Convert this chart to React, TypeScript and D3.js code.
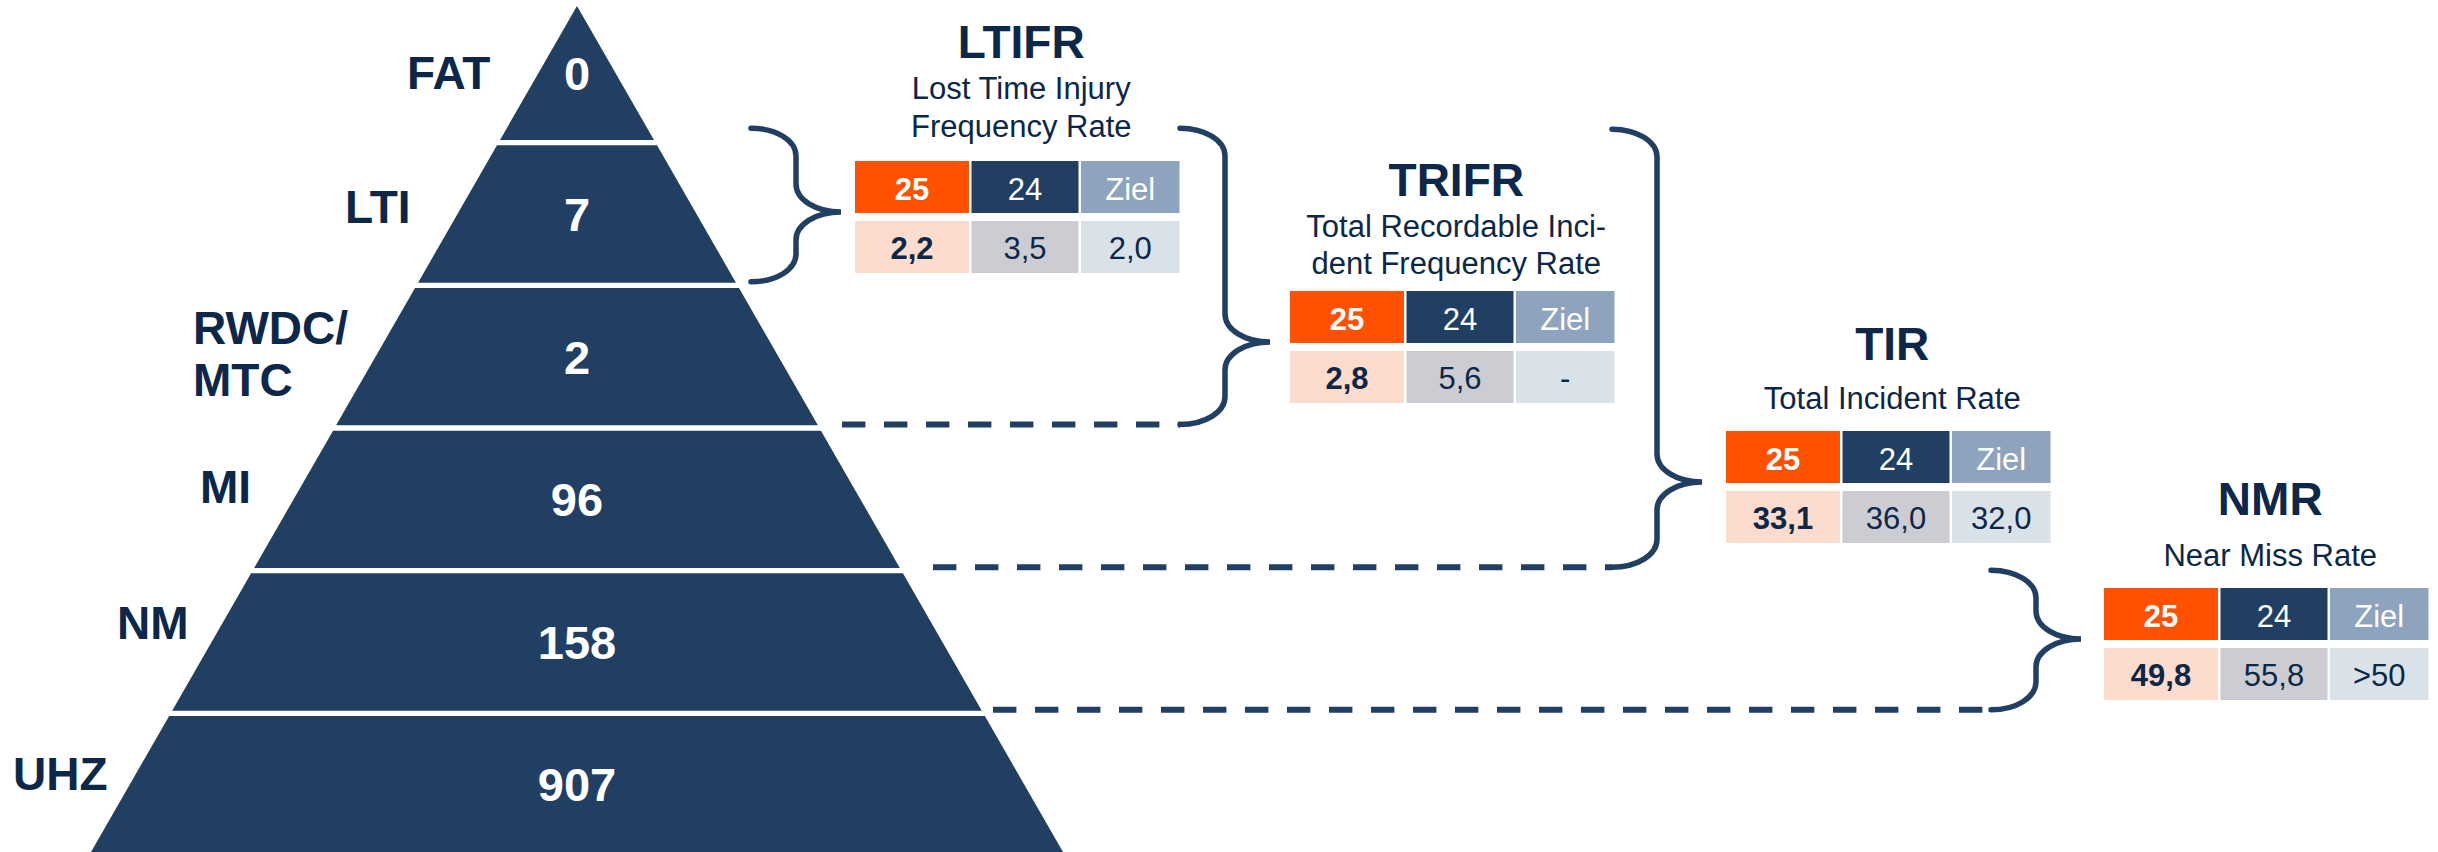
import React from "react";
import * as d3 from "d3";

// incident pyramid
const levelLabels = [["FAT"], ["LTI"], ["RWDC/", "MTC"], ["MI"], ["NM"], ["UHZ"]];
const levelCounts = [0, 7, 2, 96, 158, 907];

// rate tables
const rateCodes = ["LTIFR", "TRIFR", "TIR", "NMR"];
const rateNames = [
  ["Lost Time Injury", "Frequency Rate"],
  ["Total Recordable Inci-", "dent Frequency Rate"],
  ["Total Incident Rate"],
  ["Near Miss Rate"],
];
const columnHeaders = ["25", "24", "Ziel"];
const rates2025 = [2.2, 2.8, 33.1, 49.8];
const rates2024 = [3.5, 5.6, 36.0, 55.8];
const rateTargets = ["2,0", "-", "32,0", ">50"];
// which pyramid levels each rate covers
const rateFrom = [1, 1, 1, 4];
const rateTo = [1, 2, 3, 4];

const W = 2438;
const H = 852;
const FONT = "'Liberation Sans', Arial, Helvetica, sans-serif";
const NAVY = "#213f63";
const DARK = "#0c2747";
const headerFills = ["#ff5100", "#213f63", "#8da3be"];
const valueFills = ["#fddccd", "#cccdd2", "#d9e1e9"];

// layout
const apex = { x: 577, y: 6 };
const baseHalf = 486;
const GAP = 5.3;
const labelX = [407, 345, 193, 200, 117, 13];
const labelBase = [[89], [223], [344, 396], [503], [639], [790]];
const tableLeft = [855, 1290, 1726, 2104];
const tableTop = [161, 291, 431, 588];
const titleBase = [58, 196, 360, 515];
const subBase = [[99, 137], [237, 274], [409], [566]];
const braceX = [751, 1180, 1612, 1991];
const braceTopOffset = [14.5, 14.5, 13.5, 0.5];
const dashStart = [842, 933, 993];
const colW = [114, 107, 98.5];
const colGap = 2.5;
const rowH = 52;
const rowGap = 8;

const bandY = d3.scaleLinear().domain([0, levelLabels.length]).range([0, 856]);
const halfW = d3.scaleLinear().domain([apex.y, H]).range([0, baseHalf]);
const de = d3.formatLocale({ decimal: ",", thousands: ".", grouping: [3], currency: ["", " €"] });
const fmt = de.format(".1f");

const colX = colW.map((_, i) => d3.sum(colW.slice(0, i)) + i * colGap);
const tableW = d3.sum(colW) + colGap * (colW.length - 1);

// curly brace opening to the left, pointing right at tipY
function bracePath(x0: number, top: number, bottom: number, tipY: number) {
  const dx = 45;
  const x1 = x0 + dx;
  const x2 = x0 + 2 * dx;
  const r = 28;
  const k = 0.56;
  return [
    `M${x0},${top}`,
    `C${x0 + dx * k},${top} ${x1},${top + r * (1 - k)} ${x1},${top + r}`,
    `L${x1},${tipY - r}`,
    `C${x1},${tipY - r * (1 - k)} ${x2 - dx * k},${tipY} ${x2},${tipY}`,
    `C${x2 - dx * k},${tipY} ${x1},${tipY + r * (1 - k)} ${x1},${tipY + r}`,
    `L${x1},${bottom - r}`,
    `C${x1},${bottom - r * (1 - k)} ${x0 + dx * k},${bottom} ${x0},${bottom}`,
  ].join(" ");
}

export default function App() {
  const line = d3.line();

  const bands = levelCounts.map((c, i) => {
    const top = i === 0 ? apex.y : bandY(i) + GAP / 2;
    const bot = bandY(i + 1) - GAP / 2;
    const pts: [number, number][] = [
      [apex.x - halfW(top), top],
      [apex.x + halfW(top), top],
      [apex.x + halfW(bot), bot],
      [apex.x - halfW(bot), bot],
    ];
    return { c, i, top, bot, d: line(pts) + "Z" };
  });

  return (
    <svg
      width={W}
      height={H}
      viewBox={`0 0 ${W} ${H}`}
      style={{ position: "absolute", left: 0, top: 0, background: "#fff" }}
      fontFamily={FONT}
    >
      {/* pyramid */}
      {bands.map((b) => (
        <g key={b.i}>
          <path d={b.d} fill={NAVY} />
          <text
            x={apex.x}
            y={(Math.max(b.top, apex.y) + Math.min(b.bot, H)) / 2 + 17}
            fill="#fff"
            fontSize={47}
            fontWeight="bold"
            textAnchor="middle"
          >
            {b.c}
          </text>
          {levelLabels[b.i].map((t, j) => (
            <text
              key={j}
              x={labelX[b.i]}
              y={labelBase[b.i][j]}
              fill={DARK}
              fontSize={46}
              fontWeight="bold"
            >
              {t}
            </text>
          ))}
        </g>
      ))}

      {/* braces and dashed connectors */}
      {rateCodes.map((code, k) => {
        const top = bandY(rateFrom[k]) - braceTopOffset[k];
        const bottom = bandY(rateTo[k] + 1) - 3.5;
        const tipY = tableTop[k] + 51;
        const x0 = braceX[k];
        const startX = k > 0 ? dashStart[k - 1] : null;
        return (
          <g key={code} fill="none" stroke={NAVY}>
            <path d={bracePath(x0, top, bottom, tipY)} strokeWidth={5.5} strokeLinecap="round" />
            {startX !== null && (
              <line x1={startX} x2={x0} y1={bottom} y2={bottom} strokeWidth={6} strokeDasharray="23.4 18.6" />
            )}
          </g>
        );
      })}

      {/* rate tables */}
      {rateCodes.map((code, k) => {
        const left = tableLeft[k];
        const top = tableTop[k];
        const cx = left + tableW / 2 + 4;
        const values = [fmt(rates2025[k]), fmt(rates2024[k]), rateTargets[k]];
        return (
          <g key={code}>
            <text x={cx} y={titleBase[k]} fill={DARK} fontSize={46} fontWeight="bold" textAnchor="middle">
              {code}
            </text>
            {rateNames[k].map((t, j) => (
              <text key={j} x={cx} y={subBase[k][j]} fill={DARK} fontSize={31} textAnchor="middle">
                {t}
              </text>
            ))}
            {columnHeaders.map((h, j) => (
              <g key={h}>
                <rect x={left + colX[j]} y={top} width={colW[j]} height={rowH} fill={headerFills[j]} />
                <text
                  x={left + colX[j] + colW[j] / 2}
                  y={top + 38.5}
                  fill="#fff"
                  fontSize={31}
                  fontWeight={j === 0 ? "bold" : "normal"}
                  textAnchor="middle"
                >
                  {h}
                </text>
                <rect
                  x={left + colX[j]}
                  y={top + rowH + rowGap}
                  width={colW[j]}
                  height={rowH}
                  fill={valueFills[j]}
                />
                <text
                  x={left + colX[j] + colW[j] / 2}
                  y={top + rowH + rowGap + 38}
                  fill={DARK}
                  fontSize={31}
                  fontWeight={j === 0 ? "bold" : "normal"}
                  textAnchor="middle"
                >
                  {values[j]}
                </text>
              </g>
            ))}
          </g>
        );
      })}
    </svg>
  );
}
